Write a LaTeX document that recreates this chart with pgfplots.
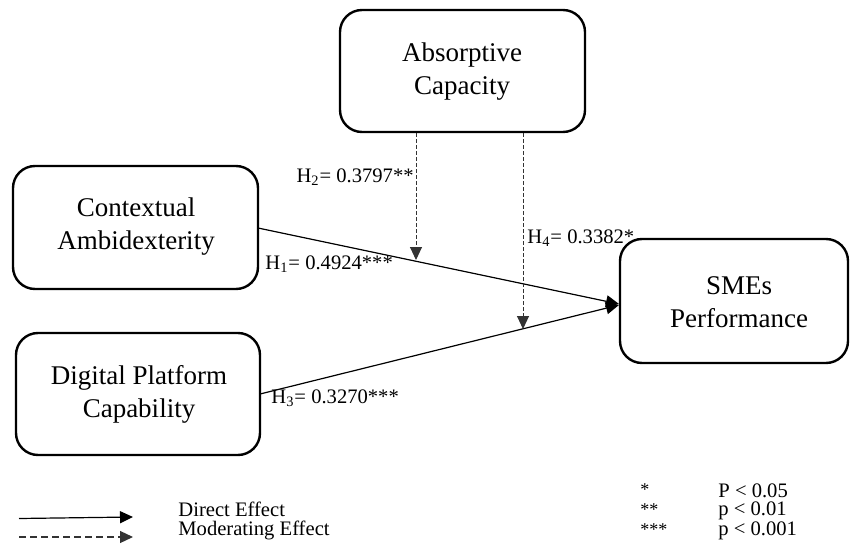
\documentclass[border=0pt]{standalone}
\usepackage{pgfplots}
\pgfplotsset{compat=1.18}
\usepackage{fontspec}
\setmainfont{Liberation Serif}
\usetikzlibrary{arrows.meta}
\tikzset{harrow/.style={-{Triangle[length=6.5pt,width=6pt]}}}
\begin{document}
\begin{tikzpicture}
\begin{axis}[width=425pt, height=272.5pt, scale only axis,
  xmin=0, xmax=850, ymin=0, ymax=545, y dir=reverse,
  hide axis, clip=false]
% frame (invisible) to fix the bounding box
\addplot[draw=none, forget plot] coordinates {(0,0) (850,545)};
% boxes
\addplot[black, line width=1.2pt, rounded corners=11pt, forget plot] coordinates
  {(462,10) (585,10) (585,132) (340,132) (340,10) (462,10)};
\addplot[black, line width=1.2pt, rounded corners=11pt, forget plot] coordinates
  {(136,166) (258,166) (258,289) (13,289) (13,166) (136,166)};
\addplot[black, line width=1.2pt, rounded corners=11pt, forget plot] coordinates
  {(138,333) (260,333) (260,455) (16,455) (16,333) (138,333)};
\addplot[black, line width=1.2pt, rounded corners=11pt, forget plot] coordinates
  {(734,239) (848,239) (848,363) (620,363) (620,239) (734,239)};
% direct effects
\addplot[black, line width=0.6pt, harrow, forget plot] coordinates
  {(258,228) (619,304)};
\addplot[black, line width=0.6pt, harrow, forget plot] coordinates
  {(260,394) (619,305)};
% moderating effects
\addplot[black!80, line width=0.5pt, dash pattern=on 2pt off 1pt, harrow, forget plot] coordinates
  {(416,133) (416,260)};
\addplot[black!80, line width=0.5pt, dash pattern=on 2pt off 1pt, harrow, forget plot] coordinates
  {(523,133) (523,329)};
% legend arrows
\addplot[black, line width=0.6pt, harrow, forget plot] coordinates
  {(19,518.5) (133,517)};
\addplot[black!80, line width=0.6pt, dash pattern=on 3.5pt off 2pt, harrow, forget plot] coordinates
  {(19,537) (133,537)};
% box texts
\node[align=center, font=\fontsize{13.5}{16.5}\selectfont] at (axis cs:462,72) {Absorptive\\Capacity};
\node[align=center, font=\fontsize{13.5}{16.5}\selectfont] at (axis cs:136,227) {Contextual\\Ambidexterity};
\node[align=center, font=\fontsize{13.5}{16.5}\selectfont] at (axis cs:139,394) {Digital Platform\\Capability};
\node[align=center, font=\fontsize{13.5}{16.5}\selectfont] at (axis cs:739,302) {SMEs\\Performance};
% path labels
\node[anchor=east, inner sep=0pt, font=\fontsize{10.3}{12}\selectfont] at (axis cs:414,177) {H\textsubscript{2}= 0.3797**};
\node[anchor=west, inner sep=0pt, font=\fontsize{10.3}{12}\selectfont] at (axis cs:265,264) {H\textsubscript{1}= 0.4924***};
\node[anchor=west, inner sep=0pt, font=\fontsize{10.3}{12}\selectfont] at (axis cs:527,238) {H\textsubscript{4}= 0.3382*};
\node[anchor=west, inner sep=0pt, font=\fontsize{10.3}{12}\selectfont] at (axis cs:271,398) {H\textsubscript{3}= 0.3270***};
% legend texts
\node[anchor=west, inner sep=0pt, font=\fontsize{10.3}{12}\selectfont] at (axis cs:178,509) {Direct Effect};
\node[anchor=west, inner sep=0pt, font=\fontsize{10.3}{12}\selectfont] at (axis cs:178,530) {Moderating Effect};
\node[anchor=west, inner sep=0pt, font=\fontsize{9}{11}\selectfont] at (axis cs:640,490) {*};
\node[anchor=west, inner sep=0pt, font=\fontsize{9}{11}\selectfont] at (axis cs:640,510) {**};
\node[anchor=west, inner sep=0pt, font=\fontsize{9}{11}\selectfont] at (axis cs:640,530) {***};
\node[anchor=west, inner sep=0pt, font=\fontsize{10.3}{12}\selectfont] at (axis cs:718,491) {P < 0.05};
\node[anchor=west, inner sep=0pt, font=\fontsize{10.3}{12}\selectfont] at (axis cs:718,511) {p < 0.01};
\node[anchor=west, inner sep=0pt, font=\fontsize{10.3}{12}\selectfont] at (axis cs:718,531) {p < 0.001};
\end{axis}
\end{tikzpicture}
\end{document}
